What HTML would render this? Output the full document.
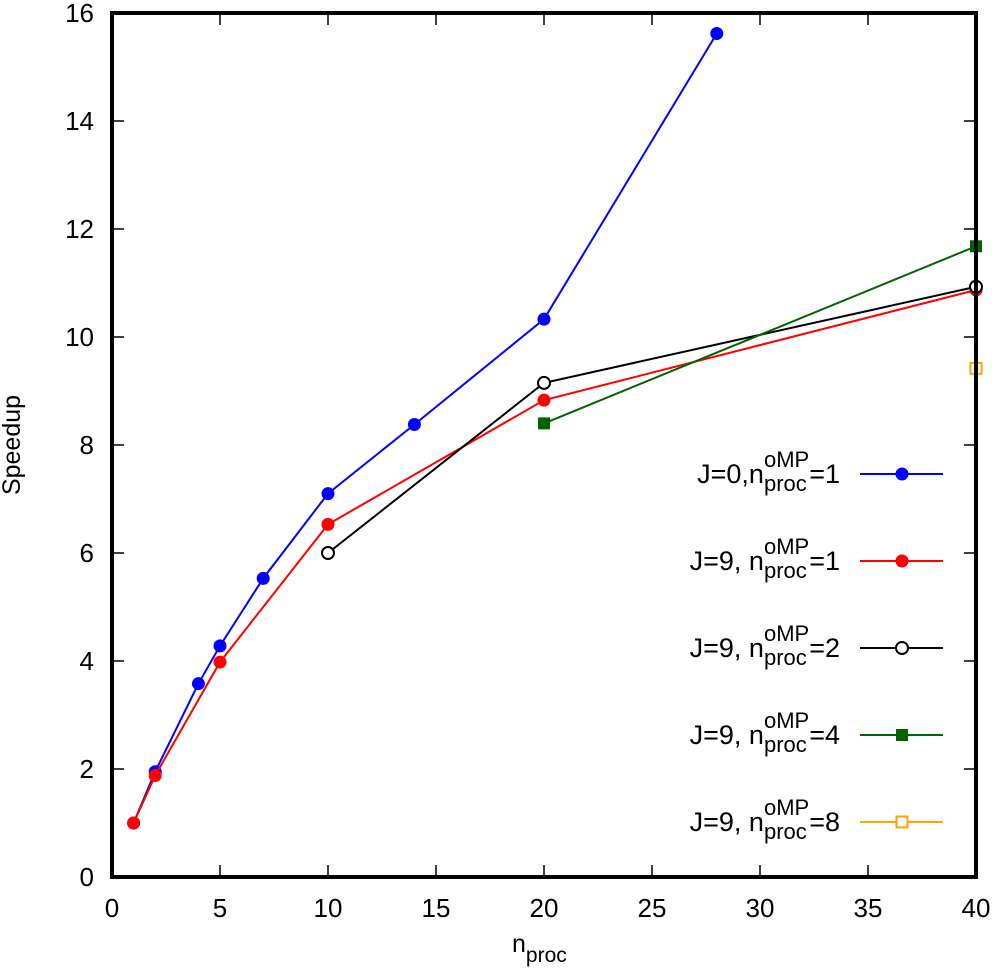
<!DOCTYPE html>
<html><head><meta charset="utf-8"><style>
body{margin:0;background:#fff;}
svg text{font-family:"Liberation Sans",sans-serif;fill:#000;}
</style></head><body>
<svg id="chart" width="997" height="972">
<g id="ticks"></g><g id="series"></g><g id="legend"></g>
<rect x="112" y="13" width="864" height="864" fill="none" stroke="#000" stroke-width="4"/>
<text x="20" y="445" font-size="25" text-anchor="middle" transform="rotate(-90 20 445)">Speedup</text>
<text x="512" y="952" font-size="25">n<tspan dy="10" font-size="21">proc</tspan></text>
</svg>
<script>
const xTicks=[0,5,10,15,20,25,30,35,40];
const yTicks=[0,2,4,6,8,10,12,14,16];
const blueX=[1,2,4,5,7,10,14,20,28];
const blueY=[1,1.95,3.58,4.28,5.53,7.1,8.38,10.33,15.62];
const redX=[1,2,5,10,20,40];
const redY=[1,1.88,3.98,6.53,8.83,10.87];
const blackX=[10,20,40];
const blackY=[6.0,9.15,10.93];
const greenX=[20,40];
const greenY=[8.4,11.68];
const orangeX=[40];
const orangeY=[9.42];
const legendLabels=["J=0,n","J=9, n","J=9, n","J=9, n","J=9, n"];
const legendVals=["1","1","2","4","8"];
const NS="http://www.w3.org/2000/svg";
const sx=v=>112+v*21.6, sy=v=>877-v*54;
function mk(t,a,p){const e=document.createElementNS(NS,t);for(const k in a)e.setAttribute(k,a[k]);p.appendChild(e);return e;}
const tg=document.getElementById('ticks');
xTicks.forEach(v=>{
 const l=mk('line',{x1:sx(v),x2:sx(v),y1:877,y2:865,stroke:'#000','stroke-width':1.5},tg);
 
 
 const l2=mk('line',{x1:sx(v),x2:sx(v),y1:13,y2:25,stroke:'#000','stroke-width':1.5},tg);
 
 
 const t=mk('text',{x:sx(v),y:917,'font-size':26,'text-anchor':'middle'},tg);t.textContent=v;
 
 
});
yTicks.forEach(v=>{
 const l=mk('line',{x1:112,x2:124,y1:sy(v),y2:sy(v),stroke:'#000','stroke-width':1.5},tg);
 
 
 const l2=mk('line',{x1:964,x2:976,y1:sy(v),y2:sy(v),stroke:'#000','stroke-width':1.5},tg);
 
 
 const t=mk('text',{x:94,y:sy(v)+9,'font-size':26,'text-anchor':'end'},tg);t.textContent=v;
 
 
});
const sg=document.getElementById('series'), lg=document.getElementById('legend');
function marker(kind,col,x,y,p){
 let m;
 if(kind==='dot')m=mk('circle',{cx:x,cy:y,r:6.5,fill:col},p);
 else if(kind==='ring')m=mk('circle',{cx:x,cy:y,r:6,fill:'#fff',stroke:col,'stroke-width':2},p);
 else if(kind==='sq')m=mk('rect',{x:x-6,y:y-6,width:12,height:12,fill:col},p);
 else m=mk('rect',{x:x-5.5,y:y-5.5,width:11,height:11,fill:'#fff',stroke:col,'stroke-width':2},p);
 return m;
}
const series=[[blueX,blueY,'#0000ff','dot'],[redX,redY,'#ff0000','dot'],[blackX,blackY,'#000','ring'],[greenX,greenY,'#006400','sq'],[orangeX,orangeY,'#ffa500','osq']];
series.forEach((s,i)=>{
 const [X,Y,c,k]=s;
 if(X.length>1){
  const pl=mk('polyline',{points:X.map((x,j)=>sx(x)+','+sy(Y[j])).join(' '),fill:'none',stroke:c,'stroke-width':2},sg);
  
  
 }
 X.forEach((x,j)=>{const m=marker(k,c,sx(x),sy(Y[j]),sg);
  
  });
 const ly=474+i*87;
 const ll=mk('line',{x1:860,x2:943,y1:ly,y2:ly,stroke:c,'stroke-width':2},lg);
 
 
 const lm=marker(k,c,902,ly,lg);
 
 
 const g=mk('g',{},lg);
 
 
 const a=mk('text',{x:0,y:ly+9,'font-size':27},g);a.textContent=legendLabels[i];
 const wa=a.getComputedTextLength();
 const sp=mk('text',{x:wa,y:ly-7,'font-size':22},g);sp.textContent='oMP';
 const sb=mk('text',{x:wa,y:ly+17,'font-size':22},g);sb.textContent='proc';
 const ws=Math.max(sp.getComputedTextLength(),sb.getComputedTextLength());
 const e=mk('text',{x:wa+ws,y:ly+9,'font-size':27},g);e.textContent='='+legendVals[i];
 const tot=wa+ws+e.getComputedTextLength();
 g.setAttribute('transform','translate('+(840-tot)+',0)');
});
</script>
</body></html>
